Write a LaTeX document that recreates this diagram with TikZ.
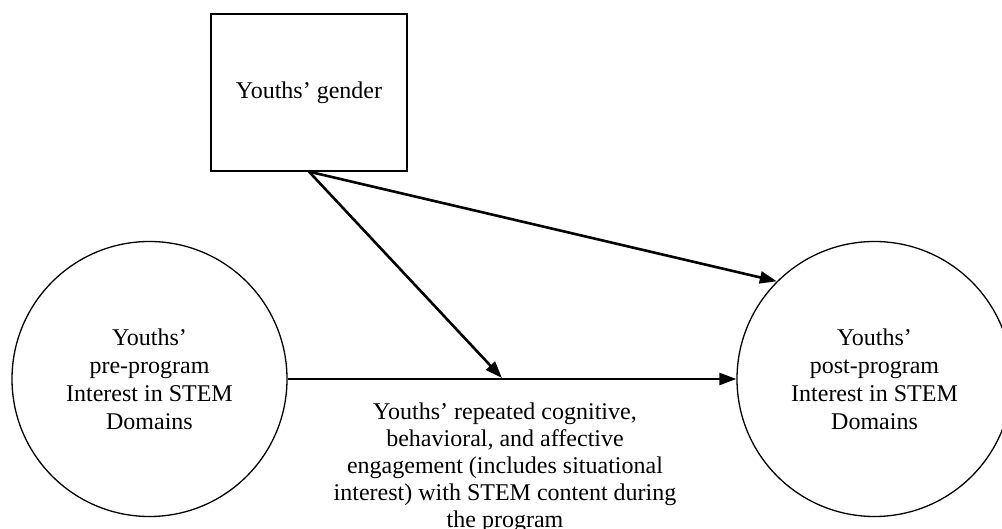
\documentclass[tikz,border=0pt]{standalone}
\usepackage{fontspec}
\setmainfont{Liberation Serif}
\usetikzlibrary{arrows.meta}

\tikzset{
  construct/.style={draw,line width=1.3pt,circle,minimum size=275pt,inner sep=0pt,align=center,font=\fontsize{24}{28}\selectfont},
  moderator/.style={draw,line width=1.3pt,rectangle,minimum width=196pt,minimum height=157pt,inner sep=0pt,font=\fontsize{24}{28}\selectfont},
  effect/.style={-{Triangle[length=17pt,width=12pt]},line width=2.6pt},
  caption/.style={align=center,inner sep=0pt,font=\fontsize{24}{27}\selectfont}
}

\begin{document}
\begin{tikzpicture}[x=1pt,y=-1pt]
\useasboundingbox (0,0) rectangle (1002,529);

%% constructs
\node [moderator] (gender) at (309,92.5) {Youths' gender};
\node [construct] (pre) at (149.5,379) {Youths'\\ pre-program\\ Interest in STEM\\ Domains};
\node [construct] (post) at (874.5,379) {Youths'\\ post-program\\ Interest in STEM\\ Domains};

%% paths
% direct effect
\draw [effect] (pre.east) -- (post.west);
% moderation onto the direct path
\coordinate (hit) at (502,378);
\draw [effect] (gender.south) -- (hit);
% gender on outcome
\draw [effect] (gender.south) -- (post.135);

%% label under the direct path
\node [caption,anchor=north] (engage) at (505,403) {Youths' repeated cognitive,\\ behavioral, and affective\\ engagement (includes situational\\ interest) with STEM content during\\ the program};

\end{tikzpicture}
\end{document}
